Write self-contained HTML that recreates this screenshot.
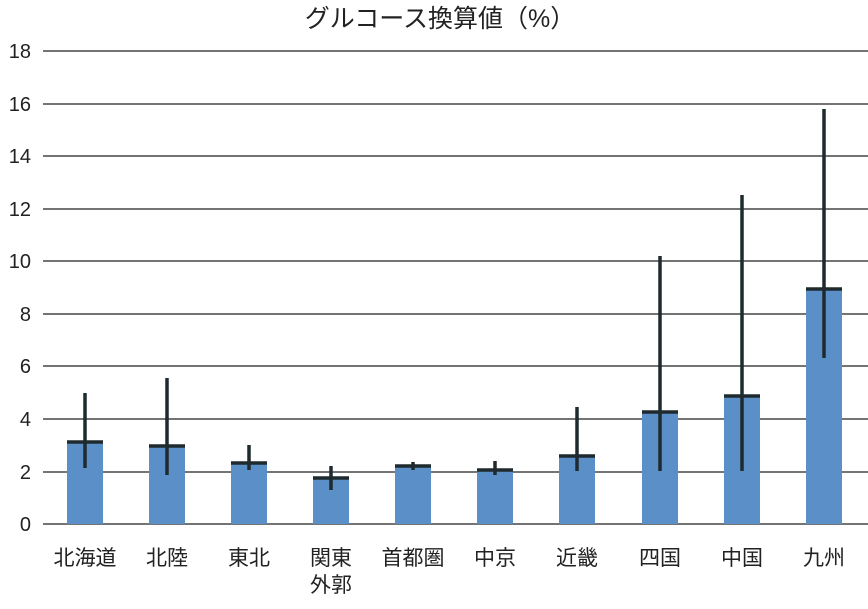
<!DOCTYPE html>
<html><head><meta charset="utf-8"><style>
html,body{margin:0;padding:0;background:#fff;}
svg{display:block;font-family:"Liberation Sans","Noto Sans CJK JP",sans-serif;}
</style></head><body>
<svg width="868" height="609" viewBox="0 0 868 609" xmlns="http://www.w3.org/2000/svg">
<text x="440" y="27" font-size="25" text-anchor="middle" fill="#222">グルコース換算値（%）</text>
<g stroke="#222" stroke-width="1.3">
<line x1="43" x2="868" y1="51" y2="51"/><line x1="43" x2="868" y1="104" y2="104"/>
<line x1="43" x2="868" y1="156" y2="156"/><line x1="43" x2="868" y1="209" y2="209"/>
<line x1="43" x2="868" y1="261" y2="261"/><line x1="43" x2="868" y1="314" y2="314"/>
<line x1="43" x2="868" y1="366" y2="366"/><line x1="43" x2="868" y1="419" y2="419"/>
<line x1="43" x2="868" y1="472" y2="472"/><line x1="43" x2="868" y1="524" y2="524"/>
</g>
<g font-size="20" fill="#222" text-anchor="end">
<text x="31" y="58">18</text><text x="31" y="111">16</text><text x="31" y="163">14</text>
<text x="31" y="216">12</text><text x="31" y="268">10</text><text x="31" y="321">8</text>
<text x="31" y="373">6</text><text x="31" y="426">4</text><text x="31" y="479">2</text>
<text x="31" y="531">0</text>
</g>
<g fill="#5b8fc7">
<rect x="67" y="442" width="36" height="82"/><rect x="149" y="446" width="36" height="78"/>
<rect x="231" y="463" width="36" height="61"/><rect x="313" y="478" width="36" height="46"/>
<rect x="395" y="466" width="36" height="58"/><rect x="477" y="470" width="36" height="54"/>
<rect x="559" y="456" width="36" height="68"/><rect x="642" y="412" width="36" height="112"/>
<rect x="724" y="396" width="36" height="128"/><rect x="806" y="289" width="36" height="235"/>
</g>
<g stroke="#1f2a2e" stroke-width="3.5">
<line x1="85" x2="85" y1="393" y2="468"/><line x1="67" x2="103" y1="442" y2="442"/>
<line x1="167" x2="167" y1="378" y2="475"/><line x1="149" x2="185" y1="446" y2="446"/>
<line x1="249" x2="249" y1="445" y2="470"/><line x1="231" x2="267" y1="463" y2="463"/>
<line x1="331" x2="331" y1="466" y2="490"/><line x1="313" x2="349" y1="478" y2="478"/>
<line x1="413" x2="413" y1="462" y2="470"/><line x1="395" x2="431" y1="466" y2="466"/>
<line x1="495" x2="495" y1="461" y2="475"/><line x1="477" x2="513" y1="470" y2="470"/>
<line x1="577" x2="577" y1="407" y2="471"/><line x1="559" x2="595" y1="456" y2="456"/>
<line x1="660" x2="660" y1="256" y2="471"/><line x1="642" x2="678" y1="412" y2="412"/>
<line x1="742" x2="742" y1="195" y2="471"/><line x1="724" x2="760" y1="396" y2="396"/>
<line x1="824" x2="824" y1="109" y2="358"/><line x1="806" x2="842" y1="289" y2="289"/>
</g>
<g font-size="21" fill="#222" text-anchor="middle">
<text x="85" y="565">北海道</text><text x="167" y="565">北陸</text><text x="249" y="565">東北</text>
<text x="331" y="565">関東</text><text x="331" y="592">外郭</text>
<text x="413" y="565">首都圏</text><text x="495" y="565">中京</text><text x="577" y="565">近畿</text>
<text x="660" y="565">四国</text><text x="742" y="565">中国</text><text x="824" y="565">九州</text>
</g>
</svg>
</body></html>
